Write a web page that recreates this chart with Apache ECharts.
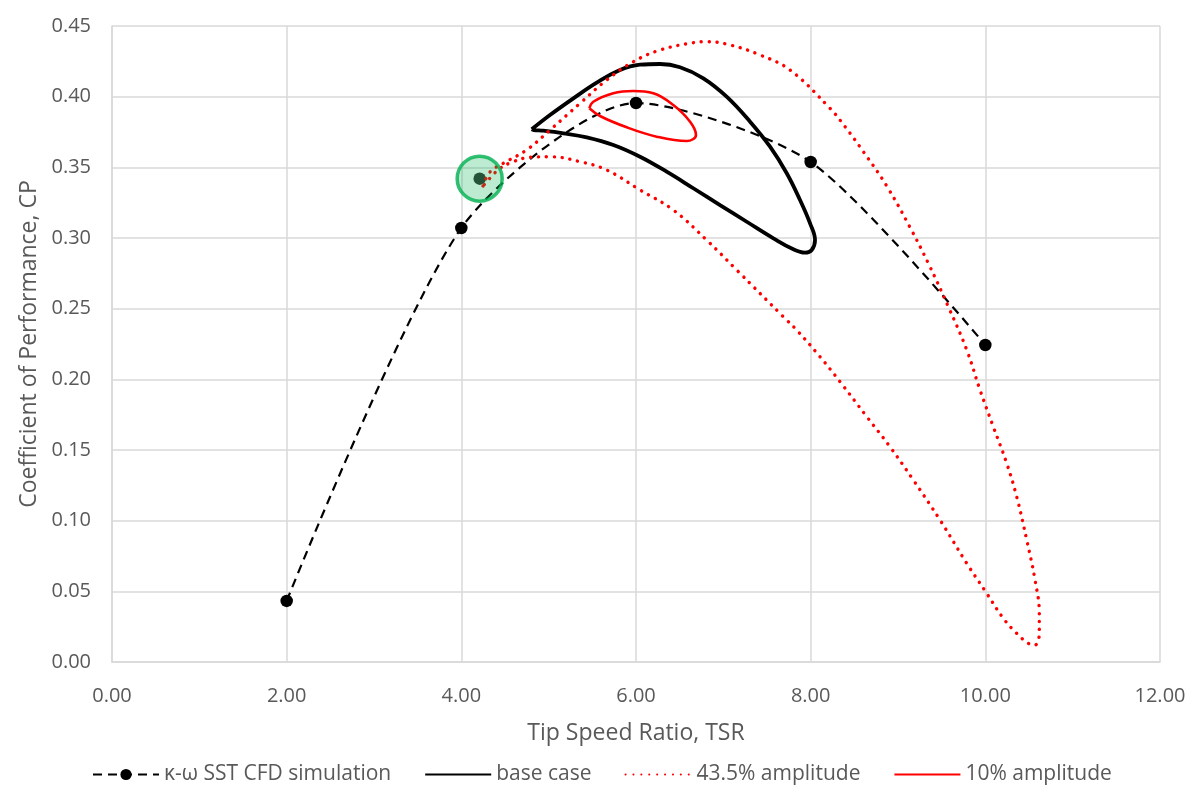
<!DOCTYPE html>
<html>
<head>
<meta charset="utf-8">
<script src="https://cdn.jsdelivr.net/npm/echarts@6/dist/echarts.min.js"></script>
<style>html,body{margin:0;padding:0;background:#fff}#c{width:1192px;height:787px}</style>
</head>
<body>
<div id="c"></div>
<script>
// ---- data ----
const cfdTSR = [2.0, 4.0, 6.0, 8.0, 10.0];
const cfdCP  = [0.0432, 0.3071, 0.3955, 0.3538, 0.2243];

const baseTSR = [4.806, 5.015, 5.283, 5.550, 5.817, 6.046, 6.275, 6.504, 6.771, 7.038, 7.306, 7.535, 7.726, 7.878, 7.993, 8.050, 8.012, 7.935, 7.802, 7.573, 7.268, 6.962, 6.656, 6.351, 6.046, 5.741, 5.436, 5.168, 4.939, 4.829, 4.806];
const baseCP  = [0.3769, 0.3870, 0.3988, 0.4099, 0.4189, 0.4226, 0.4231, 0.4208, 0.4130, 0.4000, 0.3823, 0.3646, 0.3458, 0.3269, 0.3104, 0.2986, 0.2915, 0.2896, 0.2920, 0.2998, 0.3115, 0.3233, 0.3352, 0.3469, 0.3575, 0.3658, 0.3712, 0.3741, 0.3759, 0.3764, 0.3769];

const amp435TSR = [4.248, 4.328, 4.481, 4.748, 5.015, 5.359, 5.665, 5.969, 6.275, 6.656, 6.809, 7.076, 7.420, 7.763, 8.221, 8.393, 8.603, 8.871, 9.137, 9.347, 9.576, 9.787, 9.939, 10.091, 10.245, 10.359, 10.474, 10.569, 10.618, 10.618, 10.569, 10.492, 10.359, 10.206, 10.016, 9.787, 9.481, 9.175, 8.908, 8.642, 8.336, 8.107, 7.840, 7.687, 7.153, 6.810, 6.427, 6.046, 5.665, 5.359, 5.015, 4.786, 4.595, 4.443, 4.351, 4.248];
const amp435CP  = [0.3368, 0.3467, 0.3529, 0.3623, 0.3764, 0.3953, 0.4118, 0.4247, 0.4330, 0.4382, 0.4389, 0.4366, 0.4295, 0.4189, 0.3918, 0.3788, 0.3611, 0.3368, 0.3076, 0.2821, 0.2514, 0.2208, 0.1925, 0.1665, 0.1406, 0.1170, 0.0863, 0.0580, 0.0345, 0.0203, 0.0120, 0.0132, 0.0203, 0.0309, 0.0486, 0.0698, 0.1005, 0.1288, 0.1523, 0.1736, 0.1983, 0.2160, 0.2349, 0.2443, 0.2774, 0.2985, 0.3198, 0.3340, 0.3481, 0.3540, 0.3575, 0.3571, 0.3540, 0.3493, 0.3439, 0.3368];

const amp10TSR = [5.466, 5.511, 5.740, 5.969, 6.198, 6.427, 6.619, 6.687, 6.581, 6.237, 5.894, 5.588, 5.466];
const amp10CP  = [0.3918, 0.3964, 0.4024, 0.4040, 0.4024, 0.3941, 0.3823, 0.3729, 0.3686, 0.3717, 0.3783, 0.3863, 0.3918];

// highlighted operating point (dot + green circle)
const highlightTSR = [4.21];
const highlightCP  = [0.342];

const seriesNames = ['κ-ω SST CFD simulation', 'base case', '43.5% amplitude', '10% amplitude'];
const xTitle = 'Tip Speed Ratio, TSR';
const yTitle = 'Coefficient of Performance, CP';

const zip = (a, b) => a.map((v, i) => [v, b[i]]);

const chart = echarts.init(document.getElementById('c'), null, {renderer: 'canvas'});
const txt = '#595959';
const grid = '#d9d9d9';
const font = 'Open Sans';
chart.setOption({
  animation: false,
  backgroundColor: '#fff',
  grid: {left: 112, right: 32, top: 26, bottom: 125},
  legend: {
    data: [
      {name: seriesNames[0]},
      {name: seriesNames[1], itemStyle: {opacity: 0}},
      {name: seriesNames[2], itemStyle: {opacity: 0}},
      {name: seriesNames[3], itemStyle: {opacity: 0}}
    ],
    bottom: -3,
    left: 87,
    itemWidth: 66,
    itemHeight: 14,
    itemGap: 33,
    textStyle: {color: txt, fontSize: 21, fontFamily: font}
  },
  xAxis: {
    type: 'value', min: 0, max: 12, interval: 2,
    name: xTitle, nameLocation: 'middle', nameGap: 60,
    nameTextStyle: {color: txt, fontSize: 23, fontFamily: font},
    axisLine: {show: true, lineStyle: {color: grid, width: 1.5}},
    axisTick: {show: false},
    axisLabel: {color: txt, fontSize: 20, fontFamily: font, margin: 24, formatter: v => v.toFixed(2)},
    splitLine: {show: true, lineStyle: {color: grid, width: 1.5}}
  },
  yAxis: {
    type: 'value', min: 0, max: 0.45, interval: 0.05,
    name: yTitle, nameLocation: 'middle', nameGap: 66,
    nameTextStyle: {color: txt, fontSize: 23, fontFamily: font},
    axisLine: {show: true, lineStyle: {color: grid, width: 1.5}},
    axisTick: {show: false},
    axisLabel: {color: txt, fontSize: 20, fontFamily: font, margin: 21, formatter: v => v.toFixed(2)},
    splitLine: {show: true, lineStyle: {color: grid, width: 1.5}}
  },
  series: [
    {
      name: seriesNames[0], type: 'line', data: zip(cfdTSR, cfdCP), smooth: 0.25,
      symbol: 'circle', symbolSize: 12.5, showSymbol: true,
      itemStyle: {color: '#000'},
      lineStyle: {color: '#000', width: 2.2, type: [9, 6]}, z: 2
    },
    {
      name: 'highlightPoint', type: 'scatter', data: zip(highlightTSR, highlightCP),
      symbol: 'circle', symbolSize: 12.5, silent: true,
      itemStyle: {color: '#000'}, z: 2
    },
    {
      name: seriesNames[1], type: 'line', data: zip(baseTSR, baseCP), smooth: 0.4,
      symbol: 'none', itemStyle: {color: '#000'},
      lineStyle: {color: '#000', width: 3.8}, z: 3
    },
    {
      name: seriesNames[2], type: 'line', data: zip(amp435TSR, amp435CP), smooth: 0.4,
      symbol: 'none', itemStyle: {color: '#ff0000'},
      lineStyle: {color: '#ff0000', width: 3.4, type: [0.1, 7.8], cap: 'round'}, z: 4
    },
    {
      name: seriesNames[3], type: 'line', data: zip(amp10TSR, amp10CP), smooth: 0.4,
      symbol: 'none', itemStyle: {color: '#ff0000'},
      lineStyle: {color: '#ff0000', width: 2.6}, z: 5
    },
    {
      name: 'highlight', type: 'scatter', data: zip(highlightTSR, highlightCP),
      symbol: 'circle', symbolSize: 45, silent: true,
      itemStyle: {color: 'rgba(0,176,80,0.32)', borderColor: '#00b050', borderWidth: 3.5}, z: 6
    }
  ]
});
</script>
</body>
</html>
